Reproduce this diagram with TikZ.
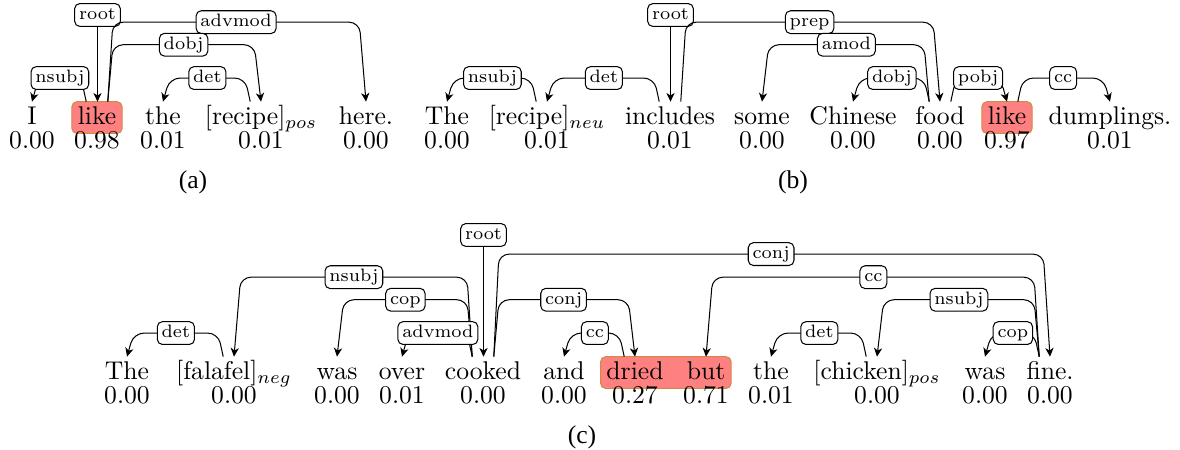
\documentclass[tikz,border=0pt]{standalone}
\usepackage{fontspec}
\usepackage{amsmath}
\usepackage{xcolor}
\usepackage{tikz}
\usetikzlibrary{backgrounds,arrows.meta}

\newfontfamily\capfont{Liberation Serif}
\definecolor{hlfill}{RGB}{255,128,128}
\definecolor{hldraw}{RGB}{205,140,70}

% arc from head #1 to dependent #2, #3 = direction (1 or -1), #4 = height
\newcommand{\deparc}[5]{%
    \draw[dep] ([xshift={#3*4.2pt}]#1.north) -- ([xshift={#3*6.2pt},yshift=#4]#1.north)
        -- node[deplabel] {#5} ([xshift={-2.6pt*#3},yshift=#4]#2.north) -- (#2.north);}

\begin{document}
\begin{tikzpicture}[x=0.39pt,y=-0.39pt,
    word/.style={anchor=base,text height=6.9pt,text depth=1.1pt,inner xsep=2.1pt,inner ysep=2pt},
    score/.style={anchor=base,inner sep=0pt},
    deplabel/.style={draw,fill=white,rounded corners=2pt,font=\scriptsize,inner xsep=1.7pt,inner ysep=1.2pt,text height=5pt,text depth=1.5pt},
    dep/.style={-{Stealth[length=3.4pt,width=3.2pt,inset=1pt]},rounded corners=4pt},
    hilite/.style={fill=hlfill,draw=hldraw,line width=0.4pt,rounded corners=2pt},
    capt/.style={font=\capfont\fontsize{10}{12}\selectfont}]
    \useasboundingbox (0,0) rectangle (1180,450);

    % (a)
    \node[word] (a1) at (32,125) {I};
    \node[word] (a2) at (97,125) {like};
    \node[word] (a3) at (163,125) {the};
    \node[word] (a4) at (261,125) {\relax[recipe]$_{pos}$};
    \node[word] (a5) at (366,125) {here.};
    \node[score] (a1s) at (32,149) {0.00};
    \node[score] (a2s) at (97,149) {0.98};
    \node[score] (a3s) at (163,149) {0.01};
    \node[score] (a4s) at (261,149) {0.01};
    \node[score] (a5s) at (366,149) {0.00};
    \node[deplabel] (ar) at (97.5,15) {root};
    \draw[dep] (ar) -- (ar |- a2.north);
    \deparc{a2}{a1}{-1}{9.2pt}{nsubj}
    \deparc{a2}{a5}{1}{31pt}{advmod}
    \deparc{a2}{a4}{1}{22.2pt}{dobj}
    \deparc{a4}{a3}{-1}{9.2pt}{det}
    \node[capt] (acap) at (193,182) {(a)};

    % (b)
    \node[word] (b1) at (447,125) {The};
    \node[word] (b2) at (547,125) {\relax[recipe]$_{neu}$};
    \node[word] (b3) at (670,125) {includes};
    \node[word] (b4) at (762,125) {some};
    \node[word] (b5) at (853,125) {Chinese};
    \node[word] (b6) at (940,125) {food};
    \node[word] (b7) at (1007,125) {like};
    \node[word] (b8) at (1110,125) {dumplings.};
    \node[score] (b1s) at (447,149) {0.00};
    \node[score] (b2s) at (547,149) {0.01};
    \node[score] (b3s) at (670,149) {0.01};
    \node[score] (b4s) at (762,149) {0.00};
    \node[score] (b5s) at (853,149) {0.00};
    \node[score] (b6s) at (940,149) {0.00};
    \node[score] (b7s) at (1007,149) {0.97};
    \node[score] (b8s) at (1110,149) {0.01};
    \node[deplabel] (br) at (670.5,15) {root};
    \draw[dep] (br) -- (br |- b3.north);
    \deparc{b2}{b1}{-1}{9.2pt}{nsubj}
    \deparc{b3}{b2}{-1}{9.2pt}{det}
    \deparc{b3}{b6}{1}{31pt}{prep}
    \deparc{b6}{b4}{-1}{22.2pt}{amod}
    \deparc{b6}{b5}{-1}{9.2pt}{dobj}
    \deparc{b6}{b7}{1}{9.2pt}{pobj}
    \deparc{b7}{b8}{1}{9.2pt}{cc}
    \node[capt] (bcap) at (793,182) {(b)};

    % (c)
    \node[word] (c1) at (127,380) {The};
    \node[word] (c2) at (234,380) {\relax[falafel]$_{neg}$};
    \node[word] (c3) at (337,380) {was};
    \node[word] (c4) at (402,380) {over};
    \node[word] (c5) at (483,380) {cooked};
    \node[word] (c6) at (564,380) {and};
    \node[word] (c7) at (635,380) {dried};
    \node[word] (c8) at (706,380) {but};
    \node[word] (c9) at (771,380) {the};
    \node[word] (c10) at (877,380) {\relax[chicken]$_{pos}$};
    \node[word] (c11) at (985,380) {was};
    \node[word] (c12) at (1050,380) {fine.};
    \node[score] (c1s) at (127,404) {0.00};
    \node[score] (c2s) at (234,404) {0.00};
    \node[score] (c3s) at (337,404) {0.00};
    \node[score] (c4s) at (402,404) {0.01};
    \node[score] (c5s) at (483,404) {0.00};
    \node[score] (c6s) at (564,404) {0.00};
    \node[score] (c7s) at (635,404) {0.27};
    \node[score] (c8s) at (706,404) {0.71};
    \node[score] (c9s) at (771,404) {0.01};
    \node[score] (c10s) at (877,404) {0.00};
    \node[score] (c11s) at (985,404) {0.00};
    \node[score] (c12s) at (1050,404) {0.00};
    \node[deplabel] (cr) at (483.5,235) {root};
    \draw[dep] (cr) -- (cr |- c5.north);
    \deparc{c2}{c1}{-1}{9.2pt}{det}
    \deparc{c5}{c2}{-1}{31pt}{nsubj}
    \deparc{c5}{c3}{-1}{22.2pt}{cop}
    \deparc{c5}{c4}{-1}{9.2pt}{advmod}
    \deparc{c5}{c12}{1}{40pt}{conj}
    \deparc{c5}{c7}{1}{22.2pt}{conj}
    \deparc{c7}{c6}{-1}{9.2pt}{cc}
    \deparc{c12}{c8}{-1}{31pt}{cc}
    \deparc{c12}{c10}{-1}{22.2pt}{nsubj}
    \deparc{c10}{c9}{-1}{9.2pt}{det}
    \deparc{c12}{c11}{-1}{9.2pt}{cop}
    \node[capt] (ccap) at (582,437) {(c)};

    % highlights
    \begin{scope}[on background layer]
        \draw[hilite] (a2.north west) rectangle (a2.south east);
        \draw[hilite] (b7.north west) rectangle (b7.south east);
        \draw[hilite] (c7.north west) rectangle (c8.south east);
    \end{scope}
\end{tikzpicture}
\end{document}
